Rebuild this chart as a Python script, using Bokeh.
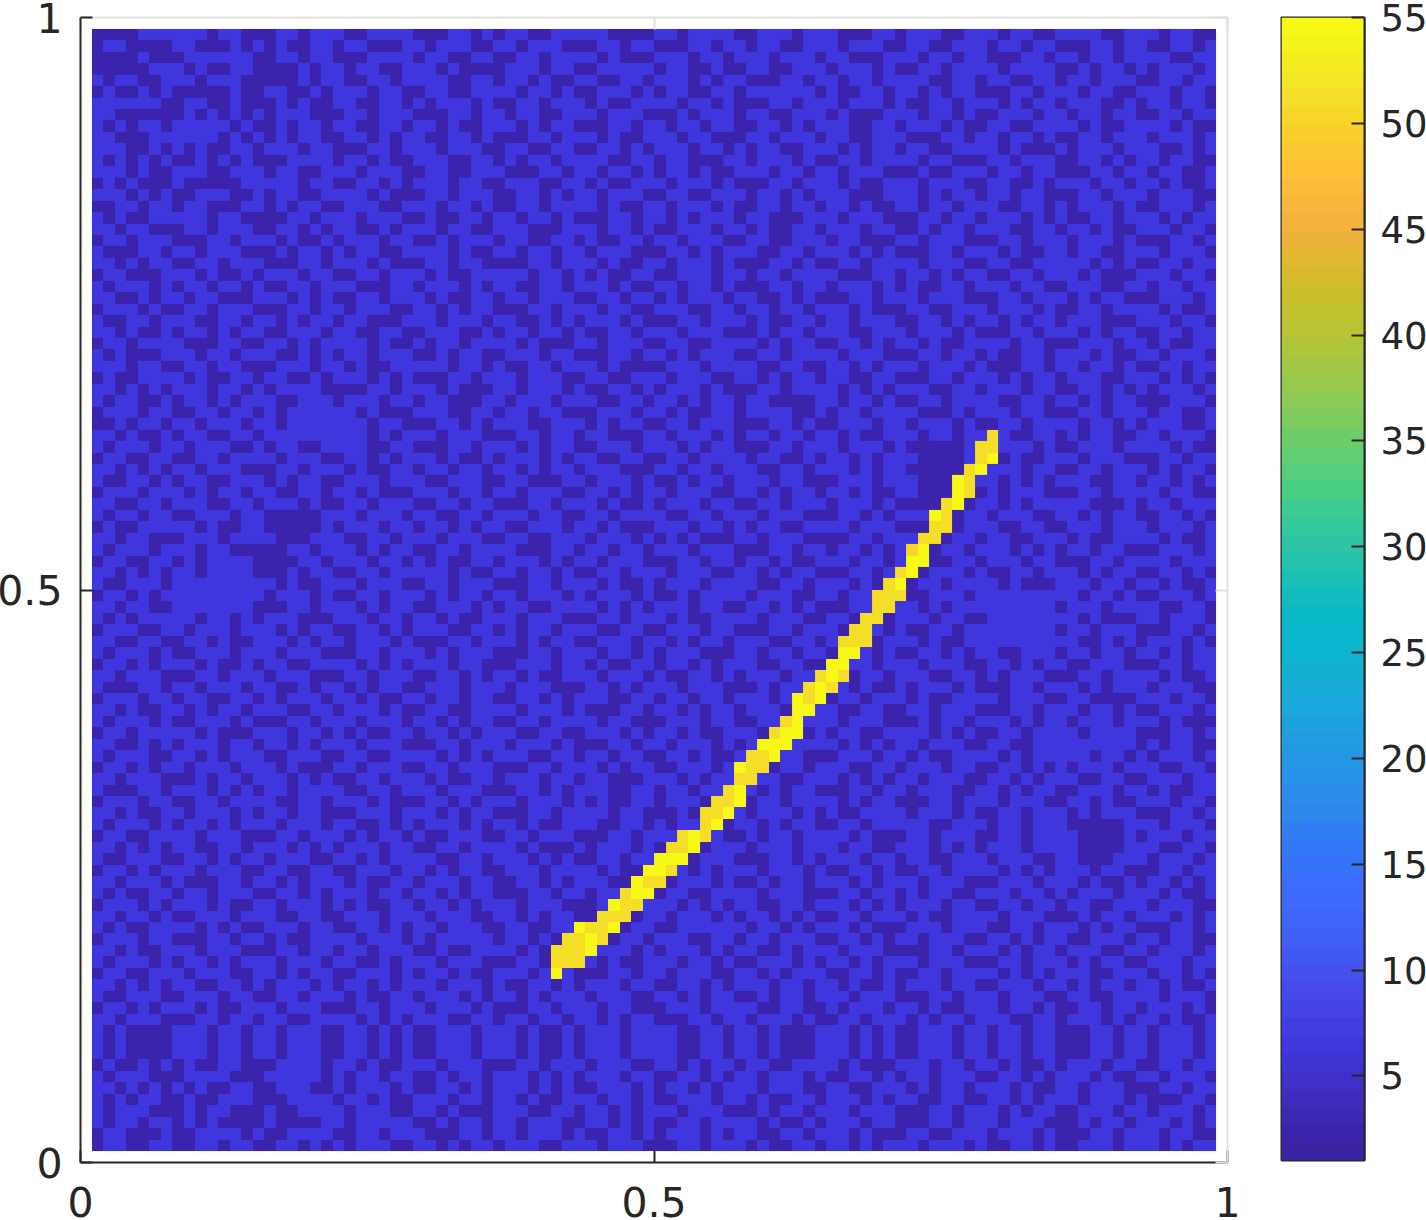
from bokeh.plotting import figure
from bokeh.layouts import row
from bokeh.models import LinearColorMapper, LinearAxis, FixedTicker
from bokeh.embed import file_html
from bokeh.resources import INLINE
import numpy as np

# Heat-map cells, top row first: '#' = dark background, '.' = light background
BG_ROWS = [
"####... ...#..# ##..#.. .##.... ###..#. #..##.. ...#### ..#.... ##...#. ..###.. #...##. ..#..## ....##. ..#..##",
"#..#### ..###.# .#.##.. #..###. .#...## ..#...# ##..#.. ###..#. .#..##. ..#...# #..##.. .#..#.. ###..#. .##..#.",
"####.## #...... ##..#.. ###.... #..##.. ##..#.. ..#.### ...#..# ...#... #..###. ..#..#. .###..# ..#..#. ...##..",
"#####.. .#.##.. ####.#. .#..##. ..#.### #...#.. ##..... #..##.# #..##.. .#...#. ##..#.. ..#.... ##.#..# .#...#.",
".#..##. ..#...# ####.#. .##..#. ...##.. #..#.## ..##..# ...#.#. .###..# ..#..#. ...##.. #..##.. #..#... ##..#..",
"#.##.#. #####.# #..##.# ...#..# #..##.. ..#..#. ##...#. #..##.. #...... #.##..# ..#.#.. ###..#. ..#..## ...#..#",
"......# #..##.# ##.#.## ..##..# .#...#. ##..#.. .#.##.. ..#..#. ###..#. ..#...# .##..#. ..#.#.. #...##. #..#..#",
"..##### #.#.#.# .#...## #..#... ###..#. .#..##. ..#...# ##.#... #..##.. .#.###. ..#..#. ##...#. .#..#.. ##..#..",
".#.#..# .....#. ##.#..# ..##..# ..#.##. ..#.#.. ###..#. .#..#.. ##..#.# ...##.. #...#.# #..##.. ..#.##. ...#.##",
"..###.. ....#.# .#.#..# #..#.#. .##..#. ###..#. ..#.##. ..#..## #..#... #..##.. .###..# ..#..#. ##..#.. .#...#.",
"...##.# .#.##.. #...#.. ###..#. ..#...# #..##.. ##..#.# ...#..# .#..##. ..#.#.. #..##.. ..#.### .#...#. ..##.#.",
".#.#.#. ##.#.#. ###.... #..#.## ...##.. #.#..#. ...##.. #..###. .#...#. ##..#.. ..#..## #..#... ##..#.# ..#..##",
"...#.## ...##.. .#..##. ..#...# #..##.. .###..# ..#..#. #..#.## ...#..# ..#...# ##.##.. .#..#.. ###..#. .#..##.",
"#.#.### .#####. ....#.. ##..#.# ...#..# #...##. .#.##.. .#...#. ###..#. ..#.##. ..#...# #..##.# ...#..# ..#.##.",
"...#.#. ##...## .#..##. ...#.## #..#... ##..#.# ..#...# #..##.. .#..#.# ...###. ..#.#.. #..#..# ##..#.. .#...##",
"##..#.. #..###. .#.#..# #...##. ..#..#. ##..#.. ..#.##. .#...#. ##..#.. #..#.## ..#..#. ..##..# .#...#. ##...#.",
".#.##.. ...#..# ###..#. ..#...# #.##..# ..#..#. ###..#. .#.#... #..###. ..#...# ##..#.. #...#.# .##..#. ..#.#..",
"..#..## #..#... ##..#.# ..##.#. ..#..## ...###. ..#..#. ##...#. .#.##.. #...#.. ##.#..# ...##.. #..#.## ...#..#",
"#..#... ###..#. ..#.##. #...#.. ##.#... #..##.. #.##..# ..#...# #..##.. .#..### ..#...# ##..#.. .#...#. ###..#.",
".###..# ..#...# ##.#..# .#..##. ...#.## ..#..#. .#...## #..#.#. ..##..# ...#.#. ###..#. ..#.##. .#..##. ..#...#",
"..#.#.. ##..#.. .###..# ...#.## #..#..# ###..#. ..#.##. .#...#. ###..#. ##..#.. ..#...# #..##.. ...#.#. ##..#..",
"#..###. ..#.##. #...#.. ##..#.. .#.##.. ...#..# .#.##.. ##...#. .#..#.. ..###.. #..#.#. .##..#. ..#.### ...#..#",
".#...#. #..#..# .##..#. ..###.. #...#.# ..##..# ...#.## ..#..#. ###..#. .#...#. #.##..# ...#..# #...##. .#..#..",
"..##.#. .#..### ...#.#. ##..#.. .#.##.. #..#... ##..#.. #.#...# ..##.#. ###..#. ..#...# ##..#.. .#.#..# ##...#.",
"#...#.# #..#... ###..#. .#...## ..#.#.. ###..#. ..#..## ...##.. #..#..# ...#.## #..##.. .#...#. ##..#.. ..#.##.",
".##..#. ..##..# ..#.#.. #..###. ..#...# ..##.#. #...#.# ##..#.. .#.##.. #..#... ##..#.# ..#.#.. #...### ...#..#",
"..#.##. #..#.#. .##...# ..##..# #...##. #..#..# .##..#. ..#...# ##.#..# ...##.. .#...#. ###..#. ..#.#.. ##..#..",
"#..#... .###..# #..#.#. ...#.## .#..#.. ..#.### ..#...# #..##.. ..#.#.. ##..#.# ..#.##. ...#..# ##...#. .#.##..",
".#.###. ..#..#. ..##.#. #..#... ##.#..# #...#.. ###..#. .#.#... ##..#.. ..#...# ##..#.. #.##..# ...#.## ..#...#",
"...#..# #..#..# ##...#. .#.##.. ...#..# .##..#. ..#.### #...#.. ..##..# #..#.#. ..#...# .###..# ..#..#. ##..#..",
"#.##... .#.##.. #..##.# ...#.#. ###..#. ..#...# #..##.. .#...## ..#.#.. #..##.. ###..#. ..#.#.. #...##. ..#.#.#",
"..#.#.# ...#..# .#....# ###..#. ..#.### ..#...# .##..#. #...#.# ##..#.. ..#.#.# ...##.. #...#.. ##..#.# .#...#.",
".#..##. #..#.#. ..##... #...#.. #..###. .#...#. ..##..# ..#.#.. #..#### ..#..#. ##..#.. ..##..# ..#.#.. ###...#",
"#...#.. ##..#.. #.#.... ..#.### ...##.. #..#..# ##...#. .#.##.. #....## .#..#.. ..###.# ...#..# ##..#.. .#..##.",
"##.#..# ..#...# ..#.... ...#..# ##..#.# ...##.. .#.#..# #..#... ###..#. ##...#. .#...#. ##..#.. ..#..#. #...##.",
"..#.##. #..##.. #...... ...#.#. ..#...# ##..#.. #..###. .#...#. #..#..# ..#.##. ..#..#. ...##.. #.#..## ..#...#",
".#...#. .#...## .#..##. ...##.. ###..#. ..#.#.. ##...#. ..#.#.. ###..#. ..#...# .#####. .#...#. ##...#. ...#.##",
"#..##.. ##..#.. ..#...# #..#.#. ..#.##. #...#.# ..##..# #..#... .#..##. #..#.#. ..####. ..#.##. ..#...# ##..#..",
"..#.#.# ..#...# ##..#.. .#.##.. #..#..# ..#.#.. #...### ..#..#. ..##..# ...#.#. .#####. #...#.. ##..#.. .#.#..#",
".##..#. #..##.. .#.#..# #...#.. .##...# #..###. .#...#. ##.#..# ...#..# ##...#. ..####. ..#.#.# ...##.. #..#.#.",
"#...#.. .#.#..# ..##..# ..#.### ...#..# ..#...# #..#.#. .#...## ..#.#.. #..#.## ..###.. #.#...# ##..#.. ..#..##",
"..##..# ...##.. #...#.# #..#... ##..#.. ###..#. ..#.##. #...#.. ##..#.. .#...#. ####..# ..#.#.. ...###. #..#...",
".#..#.. ##...#. .#####. ..#...# ..##..# ...#..# #..#... .##..#. ..#...# ##..#.# ...###. .#...## ..#.#.. ##..#.#",
"#.##... ..#.##. .#####. #...#.. #..#.#. .##...# ..#.### ...#..# .#..##. ...#... ###..#. ..##..# #...#.. .#...#.",
"..#..## #...#.. ..###.. .##..#. ..#...# #..##.. .#...#. #.#.### ..#...# ###..#. ..#.#.. #..##.. .#.##.. ..#.##.",
".#...#. ..#..## ###..#. ..#.#.. ##..#.. ..###.. #..#..# ...#... ###..#. .#..#.# ..##..# ...#.#. #..#..# ##...#.",
"#..##.. #.#.... ####..# ...#..# .#.##.. #...#.# ..#...# ##..#.. #..#.## ...#..# .#.##.. #...#.. ###..#. ...#...",
"..#.#.# ..#.... ###.#.. ##..#.. ...#.## ..#..#. ##..#.. .#...## ..#.#.. ###..#. ..#...# .##..#. ..#.#.. ##..#.#",
".##...# ....... ..#.##. ..#...# #..#... ###..#. ..#.##. #...#.. ..##..# ...#.#. ##..#.. ..#.### ...#..# ..#.##.",
"#..#.#. ....... .#...#. ##..#.. .#.#..# ..#...# .#...#. ##.#... .#...## ..#..#. .##...# ....... ..#..#. ##...#.",
"..#..## ....... ###..#. ..#.#.. ##...#. #..##.. ..#.#.# ...#..# #..#.#. ###..#. ..#.#.. ....... #...#.. ..##..#",
".#.#... ..#..#. #...### ...#..# ..#.##. ..#...# ##..#.. .#.##.. ..#...# #..#.## ...#..# #...... ..#.### ..#...#",
"#...##. .#...#. ..#.#.. ##..#.# ...##.. #.#..#. ..##..# #...#.. ###..#. ..#...# .##..#. ....... #..#... ###..#.",
"..##..# #..#.## ...#.#. .#...#. ###..#. ..#.#.. ##...#. .#.#..# ...##.. #..#.#. ..#.##. ....... ..##.#. #...#.#",
".#...#. ##...#. ..#...# ##..#.. .#.#... ###..#. ..#..#. #...### ..#..#. .#...#. ##..#.# ..##... #..#..# ..#.#..",
"#..#.#. ..#.##. #..##.. ..#.#.# ...#..# ##...#. .#.##.. #..#.#. ..##..# ###..#. ..#...# #..#.#. .##...# ##..#..",
"..#...# ##..#.. .#...## #..#... ##..#.# ..#.##. ..#...# .##..#. #...#.. ##.#..# ...##.. #.#...# ##..#.. ..#.##.",
".###..# ..#...# ..##.#. .#.#..# #...#.. .#...## #..#.#. ..#...# ##.#..# ...#.## .#...#. ###..#. ..#.#.. .#...##",
"#...#.. #..##.. #.#...# ..#.##. .#..#.. ##..#.# ...##.. #..#..# ...#.#. ##..#.. .#.##.. ..#...# #..#### ...#..#",
"..#.##. .#.#..# ...##.. #...#.# #..##.. ..#...# .###..# ..#.#.. #...#.# ..##..# #..#... ###..#. ..#..#. ##...#.",
".#...#. ##...#. ###..#. ..#...# ..#.#.. ##..#.. ..#..## #...#.. ##..#.. ..#...# ##.#..# ...#.#. .#...#. ..#.###",
"#..#... ..#.### ...#..# .#.##.. #..#.#. ..##..# #...#.# ..#.##. ..#...# .#..##. ...#.#. ##..#.. ..#.... ###..#.",
"..##.#. #...#.. #..#.#. ..#...# ##..#.. .#...#. ###..#. .#...#. #..##.. ..#.#.# ..#...# #..##.. ....... #.#..##",
".#...## ..#.#.. .##...# #..##.. ..#.#.# ...##.. #..#..# #..#.## ...#..# ##...#. .#.##.. ..#.#.. ...#..# .#...#.",
"#..#.#. .#...#. ..#.### ..#...# #..#... ###..#. ..#.#.. ##...#. .#.#..# ...##.. #...#.. ##..#.# .#...#. ..##..#",
"..#...# ##.#..# ...#.#. ##..#.. .#.##.. #...#.. #..###. ..#.#.. #...##. ..#.#.# ..#...# #..#.#. ..##..# #...#..",
".###..# ...#.#. #..#... .##..#. ..#...# ##..#.# ...##.. #..#..# ..#.#.. ###..#. .#...## ..#.#.. ##...#. .#.##..",
"#...#.. ##..#.. ..##..# ...#.## #..#.#. ..#...# .#.##.. #...#.. ##..#.. ..#.#.. ###..#. ..#...# #..#.## ...#..#",
"..#.##. .#...#. #..#..# ##...#. ..#.#.. ###..#. ...#..# ##.#..# .#...#. #.##... .#...#. ##..#.. .#.#... ###..#.",
".#...#. #..#.#. ..#...# ..##.#. #...#.# ..#.##. ..##..# .#...## ..#.#.. ##..#.. ...##.. .#..#.. .#####. ..#...#",
"#..##.. ..#...# ##..#.. .#.#..# .##...# #..#... ###..#. ..#...# #.#..#. ...#.## #..#... ##..#.. ..####. #...#..",
"..#.#.# ..##..# ...#.#. #...#.. ##..#.. ..#.### .#...#. ##.##.. .#...#. ..#..## ...#.#. #...#.. ..####. ..##..#",
".##...# #..#.#. .#...## ..#.#.. ..##..# ...#.#. ##..#.. ...#... ###..#. #...#.. #..##.. .#...## ..###.. .#...#.",
"#..#.#. ..#...# #..##.. ##...#. .#.#..# #...#.. ..#.##. #..#.#. ..#...# .##..#. ##..#.. ..#.#.# ...#..# ##..#..",
"..#...# .###..# ..#.#.. .#.##.. #...#.. ##..#.# ...##.. .#...#. ##.#..# ...#.#. ..#...# ##...#. ..#.##. #..#.#.",
".#.##.. #..#... ##..#.# ...#..# ..#.#.. ###..#. .#...#. #..##.. ..#...# ##..#.. #.#..## ...#..# .#...#. ..#.##.",
"#...#.# ...#.## ..#...# .#.##.. #..#.#. ..#...# ##...#. ..#.#.# ..##..# ...#.#. #...#.. ##..#.. #..##.. .#...##",
"..#..#. ##...#. ..##..# #...#.. .#...## ..#.#.. ###..#. .#...#. #..#.#. ##..#.. .#.##.. ..#...# ##.#..# ...#.#.",
".#.##.. ..#.#.# #...#.. ##..#.# ..#...# #..##.. ..#.#.. ##..... .#..#.# ...#.## #...#.. .##..#. ..#.#.. ###..#.",
"#...#.. ###..#. .#.##.. ..#...# .#..... #..#.## ...#..# ...##.. #..#... ##..#.# ..#...# #..#.#. .##...# ..#..##",
"..#.##. ..#...# ##..#.. #..#... ##.##.. ..#.#.. ##...#. #...#.# ..##.#. ..#...# ###..#. ..#.#.. #...##. .#...#.",
".#...#. #..#.#. ..#...# ..##.#. ..#...# ##..#.# ..#.##. ..#..#. ##...#. #..#.#. ..#...# ##..#.. .#.#..# #...#..",
"#..##.. .#...## ..#.#.. ##...#. #..#.## ...#... ###..#. .#...## ..#.#.. .##..#. ##..#.. ..#.#.# ...##.. .#..#.#",
"..#.#.# ..##..# .#...#. #..#.#. ..#...# .##..#. #...#.. ##..#.# ...#..# ..#.##. #...#.. ##...#. .#.#..# ..#.##.",
".##...# #...#.. ##..#.. .#.##.. #...#.# ..#.#.. .#...## ..#.#.. ##.#..# ...#... ###..#. ..#...# #..##.. ..#...#",
"#..#.#. ..#.##. ..#...# ##..#.. .#...#. ###..#. ..#..## #...#.. ..##..# #.#...# ..#.##. ..#..#. ##..#.. #...#.#",
"..#...# ##..#.. #..##.. ..#.#.# ...##.. #..#..# ..#.#.. ###..#. .#...#. ##..#.. .#.#..# ...##.. #...#.# ..#.##.",
".#.#### ...#..# ..#...# #..#.#. ##...#. ..#.##. #...#.. ..##..# ..#.### ...#.#. ##...#. .#..#.. ###..#. .#...#.",
]

# The eight rows at the bottom of the map, the last one lowest
BG_ROWS_BOTTOM = [
"#.##.#. #.##..# ##....# ..#.##. ..#...# ##..#.. .#...## ..#.#.. #..##.. ..#.### ...#..# ..#.##. #...#.. ##..#..",
".#...## #....## #.....# .#..#.. ##.#..# ...#.#. #...#.. ##..#.# ..#...# .##..#. #..#... ##..#.# ...#.## ..#...#",
"..#.#.# .#.##.. ##...## .#...#. ##..#.# ...#.#. ##...#. #..#.#. ..#...# #..##.. .#.#..# ...#.## ..#...# ##..#..",
".#.#..# #.##... ###.... #..#.## ...#..# ..#.##. ..#..#. ##...#. .#.##.. #...#.# ..##..# #..#.#. ..#...# .###..#",
".#...## #.#..## #.##... .#...## ..#.### ...##.. #..#.#. ..#...# ##.#..# ...#... ###..#. ..#.#.. ##...#. .#...#.",
".#..#.. #.#.### #.####. .#..... ##.#..# ..#...# #..#.#. ##..#.. ..#.##. #...#.. ###..#. ..#...# ##.#..# ...#.#.",
"#..###. ##....# .##.... ##..#.. .###..# ..#...# .##..#. #...#.# ..##..# ...#.## #..##.. .#...#. ###..#. ..#..##",
"#..##.. ##..#.. ##..#.# .#...## ..#.#.. #...##. ..#...# ##..#.. .#.##.. #..#.#. ..#...# .##..#. ##...#. ..#.#..",
]

# Ridge cells: row -> (first column, levels; G gold, Y yellow, O orange-gold)
RIDGE = {
    35: (78, "G"), 36: (77, "GG"), 37: (77, "GY"), 38: (76, "GY"), 39: (75, "YG"),
    40: (75, "YG"), 41: (74, "GY"), 42: (73, "YG"), 43: (73, "GG"), 44: (72, "GG"),
    45: (71, "OY"), 46: (71, "YY"), 47: (70, "GY"), 48: (69, "GY"), 49: (68, "GGG"),
    50: (68, "GG"), 51: (67, "GG"), 52: (66, "GG"), 53: (65, "GGG"), 54: (65, "YY"),
    55: (64, "YY"), 56: (63, "GYG"), 57: (62, "GYG"), 58: (61, "YGY"), 59: (61, "YY"),
    60: (60, "GY"), 61: (59, "GYY"), 62: (58, "YYY"), 63: (57, "GGY"), 64: (56, "YGG"),
    65: (56, "GG"), 66: (55, "GY"), 67: (54, "GGY"), 68: (53, "GGY"), 69: (53, "GY"),
    70: (51, "GYG"), 71: (50, "GGY"), 72: (49, "YYY"), 73: (48, "YYG"), 74: (47, "YGG"),
    75: (46, "GYY"), 76: (45, "YGG"), 77: (44, "GGG"), 78: (42, "YGGY"), 79: (41, "GGYG"),
    80: (40, "GGGY"), 81: (40, "GGG"), 82: (40, "Y"),
}

LEVELS = {"#": 2.0, ".": 6.5, "G": 51.0, "Y": 54.6, "O": 50.1}
AXIS_TICKS = [0, 0.5, 1]
BAR_TICKS = [5, 10, 15, 20, 25, 30, 35, 40, 45, 50, 55]
CMAP_VALUES = [1, 2, 4, 6.5, 8, 10, 12, 14, 16, 18, 20, 23, 25, 27, 28, 30, 31, 33, 35, 36, 38, 40, 42, 43, 45, 46, 48, 50, 52, 55]
CMAP_COLORS = ["#3A22A0", "#3A23A8", "#3E2DBE", "#3F36DD", "#4443E3", "#4551EE", "#3F63F8", "#3B6CFE", "#3178F5",
               "#2D8CEA", "#2396E4", "#1AABDA", "#0CB5D0", "#09BAC7", "#16BEB9", "#2DC5A7", "#34C99D", "#4ECF80",
               "#6ACF6B", "#7DCC5E", "#9BC949", "#B8C334", "#CBBF2B", "#D9BA2D", "#F2B23C", "#FAB53C", "#FEC235",
               "#F9D329", "#F2E626", "#F9FB15"]

INK = "#262626"
GREY = "#E0E0E0"
FONT = "DejaVu Sans"
SIZE = "41px"
BAR_SIZE = "37px"
LOW, HIGH = 1, 55
N = 98

rgb = np.array([[int(c[i:i + 2], 16) for i in (1, 3, 5)] for c in CMAP_COLORS], float)
band = LOW + (np.arange(64) + 0.5) * (HIGH - LOW) / 64
palette = ["#%02x%02x%02x" % tuple(int(round(np.interp(v, CMAP_VALUES, rgb[:, k]))) for k in range(3)) for v in band]
mapper = LinearColorMapper(palette=palette, low=LOW, high=HIGH)

grid = np.full((N, N), LEVELS["#"])
rows_in_order = BG_ROWS[:N - len(BG_ROWS_BOTTOM)]
rows_in_order = rows_in_order + [rows_in_order[-1]] * (N - len(BG_ROWS_BOTTOM) - len(rows_in_order)) + BG_ROWS_BOTTOM
for r, s in enumerate(rows_in_order):
    s = s.replace(" ", "")[:N]
    for c, ch in enumerate(s):
        grid[r, c] = LEVELS[ch]
for r, (start, cells) in RIDGE.items():
    for k, ch in enumerate(cells):
        grid[r, start + k] = LEVELS[ch]

p = figure(width=1250, height=1220, frame_width=1147, frame_height=1145, x_range=(0, 1), y_range=(0, 1),
           output_backend="svg", toolbar_location=None, min_border_left=80, min_border_right=23,
           min_border_top=17, min_border_bottom=58, x_axis_location="below", y_axis_location="left")
p.image(image=[grid[::-1]], x=0.01, y=0.01, dw=0.98, dh=0.98, color_mapper=mapper)
p.grid.visible = False
p.outline_line_color = None


def style(ax, color):
    ax.ticker = FixedTicker(ticks=AXIS_TICKS)
    ax.axis_line_color = color
    ax.axis_line_width = 2
    ax.major_tick_line_color = color
    ax.major_tick_line_width = 2
    ax.major_tick_in = 12
    ax.major_tick_out = 0
    ax.minor_tick_line_color = None


main_x, main_y = p.below[0], p.left[0]
for side in ("above", "right"):
    ax = LinearAxis()
    style(ax, GREY)
    ax.major_label_overrides = {0: "", 0.5: "", 1: ""}
    ax.major_label_standoff = 0
    p.add_layout(ax, side)
for ax in (main_x, main_y):
    style(ax, INK)
    ax.major_label_text_font = FONT
    ax.major_label_text_font_size = SIZE
    ax.major_label_text_color = INK
    ax.major_label_overrides = {0: "0", 0.5: "0.5", 1: "1"}
main_x.major_label_standoff = 24
main_y.major_label_standoff = 18

bar = figure(width=176, height=1220, frame_width=83, frame_height=1143, x_range=(0, 1), y_range=(LOW, HIGH),
             output_backend="svg", toolbar_location=None, min_border_left=31, min_border_right=62,
             min_border_top=17, min_border_bottom=60, x_axis_location=None, y_axis_location="right")
bar.image(image=[band.reshape(-1, 1)], x=0, y=LOW, dw=1, dh=HIGH - LOW, color_mapper=mapper)
bar.grid.visible = False
bar.outline_line_color = INK
bar.outline_line_width = 2
yax = bar.yaxis[0]
yax.ticker = FixedTicker(ticks=BAR_TICKS)
yax.axis_line_color = INK
yax.axis_line_width = 2
yax.major_tick_line_color = INK
yax.major_tick_line_width = 2
yax.major_tick_in = 13
yax.major_tick_out = 0
yax.minor_tick_line_color = None
yax.major_label_text_font = FONT
yax.major_label_text_font_size = BAR_SIZE
yax.major_label_text_color = INK
yax.major_label_standoff = 16

layout = row(p, bar, spacing=0, margin=(0, 0, 0, -6))
open("out.html", "w").write(file_html(layout, INLINE))
